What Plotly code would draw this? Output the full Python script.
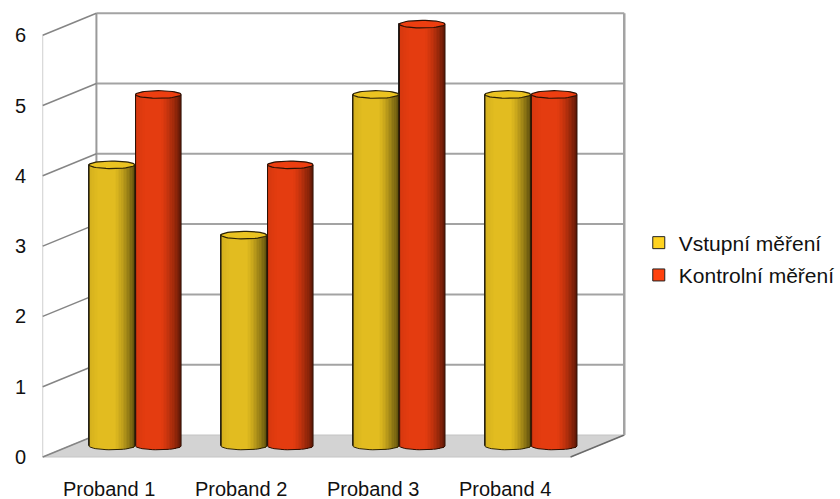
import numpy as np
import plotly.graph_objects as go

# ---- data -------------------------------------------------------------
categories = ["Proband 1", "Proband 2", "Proband 3", "Proband 4"]
vstupni = [4, 3, 5, 5]       # Vstupní měření
kontrolni = [5, 4, 6, 5]     # Kontrolní měření
y_ticks = [0, 1, 2, 3, 4, 5, 6]

series = [
    dict(name="Vstupní měření", values=vstupni, legend="#FFD320",
         base=(226, 188, 32), edge="#2e2406", offset=-0.352),
    dict(name="Kontrolní měření", values=kontrolni, legend="#FF420E",
         base=(228, 60, 16), edge="#2e1004", offset=0.0),
]

# ---- scene geometry (data units) ------------------------------------------
W, H = 840, 499
CAT_PX = 132.75          # pixels per category on the bar plane
UNIT_PX = 70.3           # pixels per value unit
X_LEFT_PX = 70.0         # left edge of the bar plane
Y_ZERO_PX = 446.0        # zero line of the bar plane

x0 = -0.5 - X_LEFT_PX / CAT_PX
x1 = x0 + W / CAT_PX
y1 = Y_ZERO_PX / UNIT_PX
y0 = y1 - H / UNIT_PX

DX = 27.0 / CAT_PX       # half depth, horizontal
DY = 11.0 / UNIT_PX      # half depth, vertical
BAR_W = 0.345            # cylinder width in category units
CAP_E = 3.8 / UNIT_PX    # cap ellipse half-height
N_STRIPS = 30
XL, XR = -0.5, len(categories) - 0.5
YMAX = max(y_ticks)

xs = np.arange(len(categories))


def shade(u):
    """Brightness across the cylinder, u from -1 (left) to 1 (right)."""
    b = 1.0 - 0.06 * max(0.0, (-u - 0.6) / 0.4)
    if u > 0.1:
        b -= 0.58 * ((u - 0.1) / 0.9) ** 1.4
    return b


def rgb(c, k):
    return "rgb(%d,%d,%d)" % tuple(int(max(0, min(255, v * k))) for v in c)


fig = go.Figure()

# legend-bearing bodies (hidden under the shaded strips)
for s in series:
    fig.add_trace(go.Bar(
        x=xs, y=s["values"], base=0, width=BAR_W, offset=s["offset"],
        name=s["name"], legendgroup=s["name"],
        marker=dict(color=s["legend"], line=dict(color="#222222", width=1)),
        hoverinfo="skip",
    ))

# shaded vertical strips that give the cylinder look
sw = BAR_W / N_STRIPS
for s in series:
    vals = np.array(s["values"], dtype=float)
    for k in range(N_STRIPS):
        u = -1 + (2 * k + 1) / N_STRIPS
        bottom = -CAP_E * np.sqrt(max(0.0, 1 - u * u))
        width = sw * (1.4 if k < N_STRIPS - 1 else 1.0)
        fig.add_trace(go.Bar(
            x=xs, y=vals - bottom, base=[bottom] * len(xs),
            width=width, offset=s["offset"] + k * sw,
            marker=dict(color=rgb(s["base"], shade(u)), line=dict(width=0)),
            showlegend=False, hoverinfo="skip",
        ))

# outlines and elliptical caps
t = np.linspace(0, np.pi, 25)
tt = np.linspace(0, 2 * np.pi, 49)
a = BAR_W / 2
for s in series:
    ox, oy, cx_, cy_ = [], [], [], []
    for i, v in zip(xs, s["values"]):
        xc = i + s["offset"] + a
        ox += [xc - a, xc - a] + list(xc - a * np.cos(t)) + [xc + a, None]
        oy += [v, 0] + list(-CAP_E * np.sin(t)) + [v, None]
        cx_ += list(xc + a * np.cos(tt)) + [None]
        cy_ += list(v + CAP_E * np.sin(tt)) + [None]
    fig.add_trace(go.Scatter(
        x=ox, y=oy, mode="lines", line=dict(color=s["edge"], width=1),
        showlegend=False, hoverinfo="skip",
    ))
    fig.add_trace(go.Scatter(
        x=cx_, y=cy_, mode="lines", fill="toself",
        fillcolor=rgb(s["base"], 1.04),
        line=dict(color=s["edge"], width=1.2),
        showlegend=False, hoverinfo="skip",
    ))

# ---- walls and floor ---------------------------------------------------
shapes = []


def seg(xa, ya, xb, yb, color, width):
    shapes.append(dict(type="line", xref="x", yref="y", x0=xa, y0=ya,
                       x1=xb, y1=yb, layer="below",
                       line=dict(color=color, width=width)))


# floor
shapes.append(dict(
    type="path", xref="x", yref="y", layer="below",
    path="M %f %f L %f %f L %f %f L %f %f Z" % (
        XL - DX, -DY, XR - DX, -DY, XR + DX, DY, XL + DX, DY),
    fillcolor="#d3d3d3", line=dict(color="#c4c4c4", width=1),
))
seg(XR - DX, -DY, XR + DX, DY, "#6a6a6a", 1.5)

# back wall grid and frame
for v in y_ticks[1:]:
    seg(XL + DX, v + DY, XR + DX, v + DY, "#a3a3a3", 2)
seg(XL + DX, DY, XL + DX, YMAX + DY, "#9a9a9a", 2)
seg(XR + DX, DY, XR + DX, YMAX + DY, "#a3a3a3", 2.5)

# side wall
seg(XL - DX, -DY, XL - DX, YMAX - DY, "#cfcfcf", 1)
for v in y_ticks:
    seg(XL - DX, v - DY, XL + DX, v + DY, "#858585", 1.5)

# ---- text --------------------------------------------------------------
FONT = "Liberation Sans, Arial, sans-serif"
annotations = []
for v in y_ticks:
    annotations.append(dict(
        x=XL - DX, y=v - DY, xref="x", yref="y", text=str(v),
        showarrow=False, xanchor="right", yanchor="middle", xshift=-15,
        font=dict(family=FONT, size=20, color="#111111"),
    ))
for i, c in enumerate(categories):
    annotations.append(dict(
        x=i - DX, y=-DY, xref="x", yref="y", text=c,
        showarrow=False, xanchor="center", yanchor="middle", yshift=-32,
        font=dict(family=FONT, size=20, color="#111111"),
    ))

fig.update_layout(
    width=W, height=H, autosize=False,
    margin=dict(l=0, r=0, t=0, b=0),
    paper_bgcolor="white", plot_bgcolor="white",
    barmode="overlay", bargap=0,
    xaxis=dict(range=[x0, x1], visible=False, fixedrange=True),
    yaxis=dict(range=[y0, y1], visible=False, fixedrange=True),
    shapes=shapes, annotations=annotations,
    legend=dict(
        x=0.765, y=1 - 259 / H, xanchor="left", yanchor="middle",
        font=dict(family=FONT, size=21, color="#111111"),
        tracegroupgap=2, bgcolor="rgba(0,0,0,0)",
    ),
    showlegend=True,
)

fig.write_html("out.html")
